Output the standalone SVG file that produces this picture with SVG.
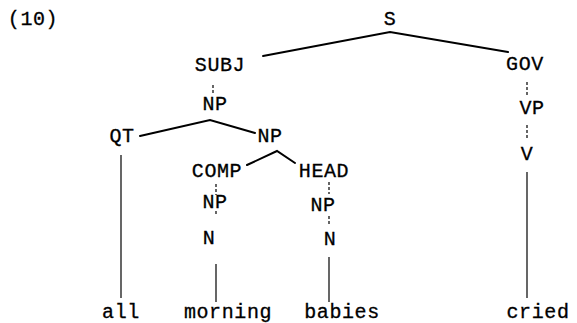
<svg xmlns="http://www.w3.org/2000/svg" width="577" height="323" viewBox="0 0 577 323">
  <style>
    text { font-family: "Liberation Mono", "Courier New", monospace; font-size: 20px; letter-spacing: 0.6px; fill: #000; stroke: #000; stroke-width: 0.3; text-anchor: middle; }
    .branch { stroke: #000; stroke-width: 2; fill: none; stroke-linecap: round; }
    .stem { stroke: #000; stroke-width: 1.2; fill: none; }
    .link { stroke: #000; stroke-width: 1.2; fill: none; stroke-dasharray: 3 2; }
  </style>
  <rect width="577" height="323" fill="#fff"/>
  <text x="33" y="25" id="label-10">(10)</text>

  <g id="connectors">
    <!-- S branches -->
    <path class="branch" d="M263,56 L390,32 L508,52"/>
    <!-- SUBJ to NP -->
    <line class="link" x1="213" y1="85" x2="213" y2="93"/>
    <!-- NP branches -->
    <path class="branch" d="M140,136 L210,120 L255,133"/>
    <!-- QT to all -->
    <line class="stem" x1="121" y1="155" x2="121" y2="298"/>
    <!-- NP branches to COMP / HEAD -->
    <path class="branch" d="M247,165 L277,151 L295,163"/>
    <!-- COMP chain -->
    <line class="link" x1="216" y1="184" x2="216" y2="195"/>
    <line class="link" x1="216" y1="211" x2="216" y2="216"/>
    <line class="stem" x1="216" y1="264" x2="216" y2="302"/>
    <!-- HEAD chain -->
    <line class="link" x1="329" y1="182" x2="329" y2="194"/>
    <line class="link" x1="329" y1="216" x2="329" y2="225"/>
    <line class="stem" x1="329" y1="257" x2="329" y2="302"/>
    <!-- GOV chain -->
    <line class="link" x1="527" y1="82" x2="527" y2="97"/>
    <line class="link" x1="527" y1="125" x2="527" y2="138"/>
    <line class="stem" x1="527" y1="172" x2="527" y2="298"/>
  </g>

  <g id="node-s"><text x="390" y="25">S</text></g>
  <g id="node-subj"><text x="220" y="71">SUBJ</text></g>
  <g id="node-gov"><text x="525" y="70">GOV</text></g>
  <g id="node-np-subj"><text x="215" y="110">NP</text></g>
  <g id="node-qt"><text x="122" y="142">QT</text></g>
  <g id="node-np-right"><text x="270" y="142">NP</text></g>
  <g id="node-comp"><text x="217" y="177">COMP</text></g>
  <g id="node-head"><text x="324" y="177">HEAD</text></g>
  <g id="node-np-comp"><text x="215" y="208">NP</text></g>
  <g id="node-np-head"><text x="323" y="211">NP</text></g>
  <g id="node-n-comp"><text x="209" y="244">N</text></g>
  <g id="node-n-head"><text x="330" y="245">N</text></g>
  <g id="node-vp"><text x="532" y="114">VP</text></g>
  <g id="node-v"><text x="527" y="160">V</text></g>
  <g id="leaf-all"><text x="121" y="318">all</text></g>
  <g id="leaf-morning"><text x="228" y="318">morning</text></g>
  <g id="leaf-babies"><text x="342" y="318">babies</text></g>
  <g id="leaf-cried"><text x="538" y="318">cried</text></g>
</svg>
